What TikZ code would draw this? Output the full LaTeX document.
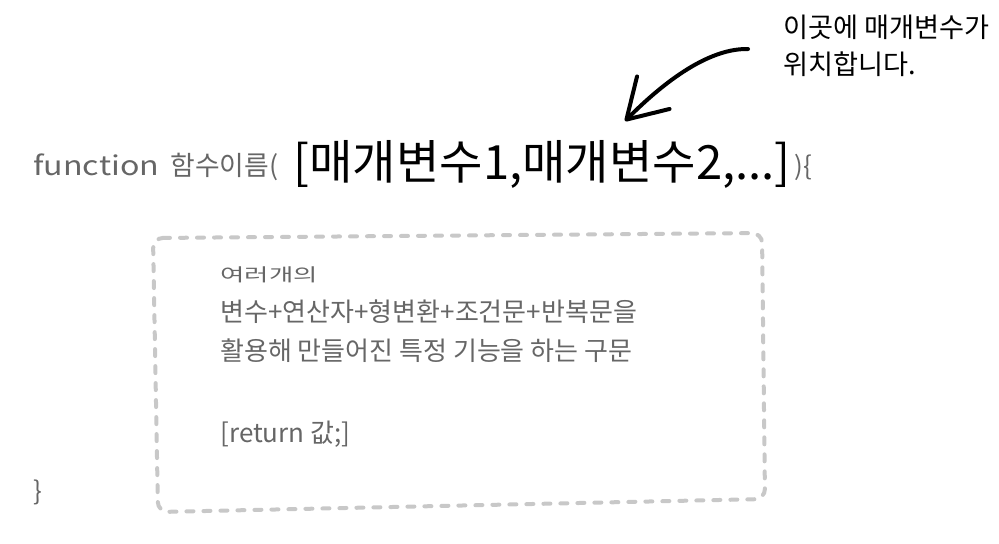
\documentclass[tikz,border=0pt]{standalone}
\usepackage{fontspec}
\setmainfont{Noto Sans CJK KR}
\usetikzlibrary{arrows.meta}
\definecolor{txtgray}{HTML}{666666}
\definecolor{boxgray}{HTML}{C8C8C8}
\tikzset{
  lbl/.style={inner sep=0pt, anchor=base west},
  graytxt/.style={lbl, text=txtgray},
  bodytxt/.style={graytxt, font=\fontsize{13pt}{15pt}\selectfont},
  dashbox/.style={draw=boxgray, line width=2pt, line cap=round, dash pattern=on 3.5pt off 5pt, rounded corners=5pt},
  callout/.style={draw=black, line width=2pt, line cap=round, -{Straight Barb[length=19pt,width=23pt,round]}}
}
\begin{document}
\begin{tikzpicture}[x=0.5pt,y=-0.5pt]
\useasboundingbox (0,0) rectangle (999,543);
% heading line
\node[graytxt, font=\fontsize{13.4pt}{16pt}\selectfont] (fn) at (33,175) {\scalebox{1.2}[1]{function}};
\node[graytxt, font=\fontsize{13.4pt}{16pt}\selectfont] (fname) at (170,175) {함수이름(};
\node[lbl, font=\fontsize{23.6pt}{28pt}\selectfont] (params) at (293,179) {[매개변수1,매개변수2,...]};
\node[graytxt, font=\fontsize{13pt}{16pt}\selectfont] (close) at (794,175) {)\{};
% annotation
\node[lbl, font=\fontsize{13.6pt}{16pt}\selectfont] (note1) at (783,37) {이곳에 매개변수가};
\node[lbl, font=\fontsize{13.6pt}{16pt}\selectfont] (note2) at (783,74) {위치합니다.};
\coordinate (arrS) at (748,49);
\coordinate (arrE) at (625,121);
\draw[callout] (arrS) .. controls (702,48) and (652,94) .. (arrE);
% dashed body box
\draw[dashbox] (153,238) -- (762,233) -- (765,499) -- (158,512) -- cycle;
\node[graytxt, font=\fontsize{10.5pt}{12pt}\selectfont] (b0) at (220,281) {\scalebox{1.26}[0.85]{여러개의}};
\node[bodytxt] (b1) at (220,321) {변수+연산자+형변환+조건문+반복문을};
\node[bodytxt] (b2) at (220,360) {활용해 만들어진 특정 기능을 하는 구문};
\node[bodytxt] (b3) at (220,442) {[return 값;]};
\node[graytxt, font=\fontsize{13pt}{16pt}\selectfont] (endbrace) at (33,500) {\}};
\end{tikzpicture}
\end{document}
